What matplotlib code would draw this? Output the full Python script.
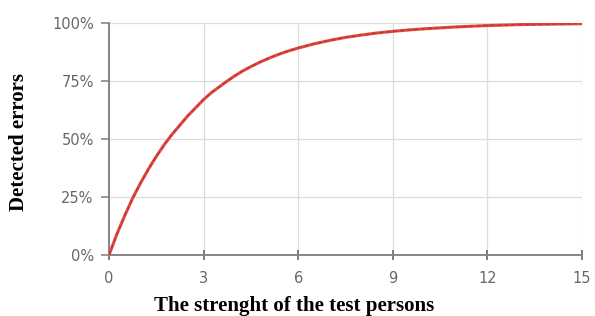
import matplotlib
matplotlib.use("Agg")
import matplotlib.pyplot as plt
from matplotlib.ticker import FuncFormatter

plt.rcParams["font.family"] = ["DejaVu Sans"]

# Number of test persons
persons = [0, 0.25, 0.5, 0.75, 1, 1.25, 1.5, 1.75, 2, 2.25, 2.5, 2.75, 3,
           3.25, 3.5, 3.75, 4, 4.25, 4.5, 4.75, 5, 5.25, 5.5, 5.75, 6,
           6.5, 7, 7.5, 8, 8.5, 9, 9.5, 10, 10.5, 11, 11.5, 12, 12.5, 13,
           13.5, 14, 14.5, 15]
# Share of detected errors in percent
detected = [0, 9, 17, 24.5, 31, 37, 42.5, 47.5, 52, 56, 60, 63.5, 67,
            70, 72.5, 75, 77.3, 79.4, 81.2, 82.9, 84.4, 85.8, 87.1, 88.2, 89.2,
            91, 92.5, 93.8, 94.8, 95.7, 96.4, 97, 97.5, 97.9, 98.3, 98.6, 98.9,
            99.1, 99.3, 99.4, 99.5, 99.6, 99.7]

x_ticks = [0, 3, 6, 9, 12, 15]
y_ticks = [0, 25, 50, 75, 100]
x_label = "The strenght of the test persons"
y_label = "Detected errors"

fig = plt.figure(figsize=(5.95, 3.16), dpi=100)
ax = fig.add_axes([109/595, 1-255/316, (582-109)/595, (255-23)/316])

ax.plot(persons, detected, color="#dd4a44", lw=2.2, solid_capstyle="round",
        solid_joinstyle="round", zorder=3)
ax.plot(persons, detected, color="#b3221c", lw=1.0, dashes=(3, 2), zorder=4, alpha=0.55)

ax.set_xlim(0, 15)
ax.set_ylim(0, 100)
ax.set_xticks(x_ticks)
ax.set_yticks(y_ticks)
ax.yaxis.set_major_formatter(FuncFormatter(lambda v, p: f"{int(v)}%"))
ax.grid(True, color="#dcdcdc", lw=0.9)
ax.set_axisbelow(True)

for s in ["top", "right"]:
    ax.spines[s].set_visible(False)
for s in ["left", "bottom"]:
    ax.spines[s].set_color("#8a8585")
    ax.spines[s].set_linewidth(1.4)

ax.tick_params(axis="y", direction="out", length=6, width=1.2, color="#8a8585",
               labelsize=10.5, labelcolor="#6a6666", pad=5)
ax.tick_params(axis="x", direction="inout", length=7, width=1.2, color="#6a6666",
               labelsize=10.5, labelcolor="#6a6666", pad=8)
for lab in ax.get_xticklabels() + ax.get_yticklabels():
    lab.set_family("DejaVu Sans")

fig.text(0.494, 1-306/316, x_label, ha="center", va="center",
         family="Liberation Serif", fontweight="bold", fontsize=15)
fig.text(19/595, 1-142/316, y_label, ha="center", va="center", rotation=90,
         family="Liberation Serif", fontweight="bold", fontsize=15)

fig.savefig("out.png", dpi=100)
